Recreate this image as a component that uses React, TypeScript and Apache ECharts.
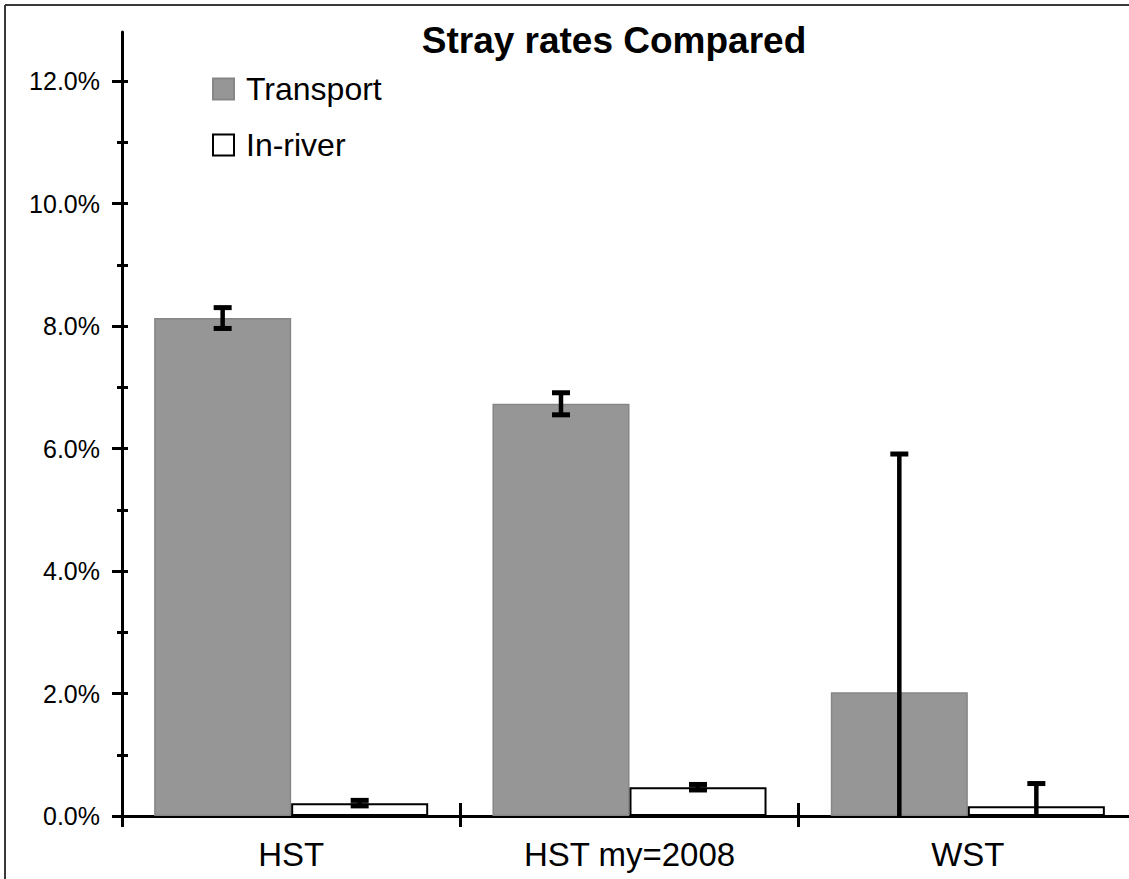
import { useEffect, useRef } from 'react';
import * as echarts from 'echarts';

const FONT = '"Liberation Sans", Arial, Helvetica, sans-serif';

const categories = ['HST', 'HST my=2008', 'WST'];
const seriesNames = ['Transport', 'In-river'];
const transport = [8.13, 6.73, 2.02];
const transportErr = [0.17, 0.18, 3.89];
const inRiver = [0.21, 0.47, 0.16];
const inRiverErr = [0.045, 0.045, 0.37];
const yLabelTicks = [0, 2, 4, 6, 8, 10, 12];
const yMinorTicks = [1, 3, 5, 7, 9, 11];
const yAllTicks = [0, 1, 2, 3, 4, 5, 6, 7, 8, 9, 10, 11, 12];
const Y_MAX = 12.8;
const CATEGORY_GAP = 0.19;

function makeErrorRender(side: number) {
  return (params: any, api: any) => {
    const idx = api.value(0);
    const v = api.value(1);
    const e = api.value(2);
    const center = api.coord([idx, 0]);
    const band = api.size([1, 0])[0];
    const barW = (band * (1 - CATEGORY_GAP)) / 2;
    const cx = center[0] + side * barW / 2;
    const yHigh = api.coord([idx, v + e])[1];
    const yLowRaw = api.coord([idx, v - e])[1];
    const cs = params.coordSys;
    const bottom = cs.y + cs.height;
    const clipped = yLowRaw > bottom;
    const yLow = clipped ? bottom : yLowRaw;
    const stem = { stroke: '#000', lineWidth: 4.5 };
    const cap = { stroke: '#000', lineWidth: 5 };
    const children: any[] = [
      { type: 'line', shape: { x1: cx, y1: yHigh, x2: cx, y2: yLow }, style: stem },
      { type: 'line', shape: { x1: cx - 9, y1: yHigh, x2: cx + 9, y2: yHigh }, style: cap },
    ];
    if (!clipped) {
      children.push({ type: 'line', shape: { x1: cx - 9, y1: yLow, x2: cx + 9, y2: yLow }, style: cap });
    }
    return { type: 'group', children };
  };
}

export default function App() {
  const ref = useRef<HTMLDivElement>(null);
  useEffect(() => {
    document.body.style.margin = '0';
    const chart = echarts.init(ref.current!, null, { renderer: 'svg' });
    const tickStyle = { color: '#000', width: 3 };
    const option: any = {
      animation: false,
      backgroundColor: '#fff',
      textStyle: { fontFamily: FONT },
      title: {
        text: 'Stray rates Compared',
        left: 609,
        top: 17,
        textAlign: 'center',
        textStyle: { fontSize: 37, fontWeight: 'bold', color: '#000', fontFamily: FONT },
      },
      legend: {
        orient: 'vertical',
        left: 207,
        top: 68,
        itemWidth: 21,
        itemHeight: 21,
        itemGap: 24,
        icon: 'rect',
        data: seriesNames,
        textStyle: { fontSize: 32, color: '#000', fontFamily: FONT, lineHeight: 31, padding: [0, 0, 0, 7] },
      },
      grid: { left: 122, right: -8, top: 32, bottom: 63, containLabel: false, outerBoundsMode: 'none' },
      xAxis: [
        {
          type: 'category',
          data: categories,
          boundaryGap: true,
          axisLine: { show: true, lineStyle: { color: '#000', width: 3 } },
          axisTick: { show: true, length: 11, lineStyle: tickStyle },
          axisLabel: { fontSize: 33, color: '#000', margin: 22, fontFamily: FONT },
          splitLine: { show: false },
        },
        {
          type: 'category',
          data: categories,
          position: 'bottom',
          boundaryGap: true,
          axisLine: { show: false },
          axisTick: { show: true, inside: true, length: 13, lineStyle: tickStyle },
          axisLabel: { show: false },
          splitLine: { show: false },
        },
      ],
      yAxis: [
        {
          type: 'value',
          min: 0,
          max: Y_MAX,
          position: 'left',
          axisLine: { show: true, lineStyle: { color: '#000', width: 3 } },
          axisTick: { show: true, length: 10, lineStyle: tickStyle, customValues: yLabelTicks },
          axisLabel: {
            customValues: yLabelTicks,
            formatter: (v: number) => v.toFixed(1) + '%',
            fontSize: 25,
            color: '#000',
            margin: 22,
            fontFamily: FONT,
          },
          splitLine: { show: false },
        },
        {
          type: 'value',
          min: 0,
          max: Y_MAX,
          position: 'left',
          axisLine: { show: false },
          axisTick: { show: true, length: 5, lineStyle: tickStyle, customValues: yMinorTicks },
          axisLabel: { show: false },
          splitLine: { show: false },
        },
        {
          type: 'value',
          min: 0,
          max: Y_MAX,
          position: 'left',
          axisLine: { show: false },
          axisTick: { show: true, inside: true, length: 6, lineStyle: tickStyle, customValues: yAllTicks },
          axisLabel: { show: false },
          splitLine: { show: false },
        },
      ],
      series: [
        {
          name: 'Transport',
          type: 'bar',
          data: transport,
          barGap: '0%',
          barCategoryGap: CATEGORY_GAP * 100 + '%',
          itemStyle: { color: '#969696', borderColor: '#868686', borderWidth: 1.5 },
        },
        {
          name: 'In-river',
          type: 'bar',
          data: inRiver,
          barGap: '0%',
          barCategoryGap: CATEGORY_GAP * 100 + '%',
          itemStyle: { color: '#ffffff', borderColor: '#000', borderWidth: 2 },
        },
        {
          name: 'Transport error',
          type: 'custom',
          z: 3,
          renderItem: makeErrorRender(-1),
          encode: { x: 0, y: 1 },
          data: transport.map((v, i) => [i, v, transportErr[i]]),
        },
        {
          name: 'In-river error',
          type: 'custom',
          z: 3,
          renderItem: makeErrorRender(1),
          encode: { x: 0, y: 1 },
          data: inRiver.map((v, i) => [i, v, inRiverErr[i]]),
        },
      ],
      graphic: [
        { type: 'line', shape: { x1: 5, y1: 5, x2: 1129, y2: 5 }, style: { stroke: '#3a3a3a', lineWidth: 2 } },
        { type: 'line', shape: { x1: 5, y1: 5, x2: 5, y2: 879 }, style: { stroke: '#3a3a3a', lineWidth: 2 } },
      ],
    };
    chart.setOption(option);
    return () => chart.dispose();
  }, []);
  return <div ref={ref} style={{ width: 1129, height: 879 }} />;
}
